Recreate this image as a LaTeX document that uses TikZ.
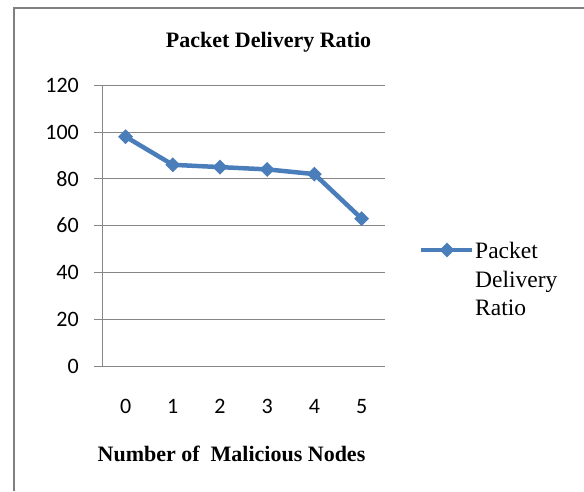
\documentclass[tikz,border=0pt]{standalone}
\usepackage{fontspec}
\setmainfont{Liberation Serif}
\newfontfamily\axisfont{Carlito}
\usetikzlibrary{shapes.geometric}
\definecolor{serblue}{RGB}{74,126,187}
\definecolor{gridgray}{RGB}{134,134,134}
\definecolor{framegray}{RGB}{128,128,128}
\begin{document}
\begin{tikzpicture}[x=1pt,y=-1pt,
  grid/.style={draw=gridgray,line width=1pt},
  ticklab/.style={font=\axisfont\fontsize{22}{26}\selectfont,inner sep=0pt},
  mk/.style={diamond,fill=serblue,inner sep=0pt,minimum width=15pt,minimum height=15pt},
  series/.style={draw=serblue,line width=4.5pt,line join=round},
  titlefont/.style={font=\bfseries\fontsize{22}{26}\selectfont,inner sep=0pt}]
\useasboundingbox (0,0) rectangle (584,491);
\draw[framegray,line width=2pt] (14,491) -- (14,8) -- (584,8);
% grid and y labels
\foreach \k in {0,...,6}{
  \pgfmathsetmacro\yy{366-46.8*\k}
  \pgfmathtruncatemacro\lab{20*\k}
  \draw[grid] (94,\yy) -- (385,\yy);
  \node[ticklab,anchor=east] (yl\k) at (79,\yy) {\lab};
}
\draw[grid] (102,85.2) -- (102,366);
% x labels
\foreach \k in {0,...,5}{
  \node[ticklab] (xl\k) at (125.6+47.2*\k,406.5) {\k};
}
% data
\coordinate (p0) at (125.6,136.7);
\coordinate (p1) at (172.8,164.8);
\coordinate (p2) at (220.0,167.1);
\coordinate (p3) at (267.2,169.4);
\coordinate (p4) at (314.4,174.1);
\coordinate (p5) at (361.6,218.6);
\draw[series] (p0) -- (p1) -- (p2) -- (p3) -- (p4) -- (p5);
\foreach \k in {0,...,5}{ \node[mk] (m\k) at (p\k) {}; }
% titles
\node[titlefont,anchor=base] (title) at (268.5,47) {Packet Delivery Ratio};
\node[titlefont,anchor=base] (xtitle) at (231.5,461.5) {Number of\hspace{0.5em}Malicious Nodes};
% legend
\coordinate (la) at (421,250);
\coordinate (lb) at (472,250);
\draw[series] (la) -- (lb);
\node[mk] (lm) at (447,250) {};
\node[anchor=north west,inner sep=0pt,align=left,font=\fontsize{23.5}{28.5}\selectfont] (leg) at (475,242) {Packet\\Delivery\\Ratio};
\end{tikzpicture}
\end{document}
